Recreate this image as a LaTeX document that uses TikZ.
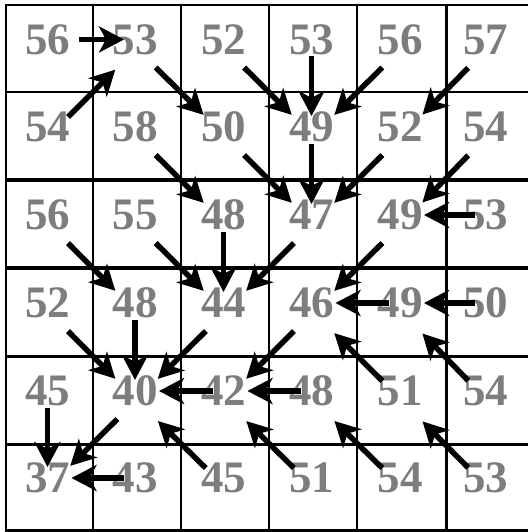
\documentclass[tikz,border=0pt]{standalone}
\usepackage{fontspec}
\setmainfont{Liberation Serif}
\usetikzlibrary{arrows.meta,calc}
\definecolor{numgray}{RGB}{125,125,125}
\tikzset{
  num/.style={inner sep=0pt, text=numgray, font=\bfseries\fontsize{45}{45}\selectfont},
  arr/.style={line width=5.5pt, -{Stealth[length=25pt,width=26pt,inset=7pt]}},
  rgt/.style={arr, shorten <=31pt, shorten >=11pt},
  lft/.style={arr, shorten <=11pt, shorten >=24pt},
  dwn/.style={arr, shorten <=17pt, shorten >=11pt},
  dia/.style={arr, shorten <=27pt, shorten >=30pt},
}
\begin{document}
\begin{tikzpicture}[x=1pt,y=-1pt]
\useasboundingbox (0,0) rectangle (528,532);
\fill[white] (0,0) rectangle (528,532);
% grid
\foreach \y/\w in {5/2,92/2,180/3.5,268/3.5,356/3,444/3,530/3}
  \draw[line width=\w pt] (5,\y) -- (528,\y);
\foreach \x/\w in {6/2.5,92.5/2,181/2,269/2.5,357/2.5,446/3}
  \draw[line width=\w pt] (\x,4) -- (\x,531.5);
% cell centres and text positions
\foreach \c/\x in {0/49,1/136.5,2/225,3/313,4/401.5,5/487}
  \foreach \r/\y in {0/48.5,1/136,2/224,3/312,4/400,5/487}{
    \coordinate (c\r\c) at (\x,\y);
    \coordinate (t\r\c) at (\x-1.5,\y-9);
  }
% numbers
\foreach \r/\row in {0/{56,53,52,53,56,57},1/{54,58,50,49,52,54},2/{56,55,48,47,49,53},3/{52,48,44,46,49,50},4/{45,40,42,48,51,54},5/{37,43,45,51,54,53}}
  \foreach \v [count=\cc from 0] in \row
    \node[num] (n\r\cc) at (t\r\cc) {\v};
% horizontal arrows
\draw[rgt] (n00.center) -- (n01.center);
\foreach \a/\b in {25/24,34/33,35/34,42/41,43/42,51/50}
  \draw[lft] (n\a.center) -- (n\b.center);
% vertical arrows
\foreach \a/\b in {03/13,13/23,22/32,31/41,40/50}
  \draw[dwn] (n\a.center) -- (n\b.center);
% diagonal arrows
\foreach \a/\b in {01/12,02/13,11/22,12/23,20/31,21/32,30/41,
                   04/13,05/14,14/23,15/24,23/32,24/33,32/41,33/42,41/50,
                   10/01,
                   44/33,45/34,52/41,53/42,54/43,55/44}
  \draw[dia] (c\a) -- (c\b);
\end{tikzpicture}
\end{document}
